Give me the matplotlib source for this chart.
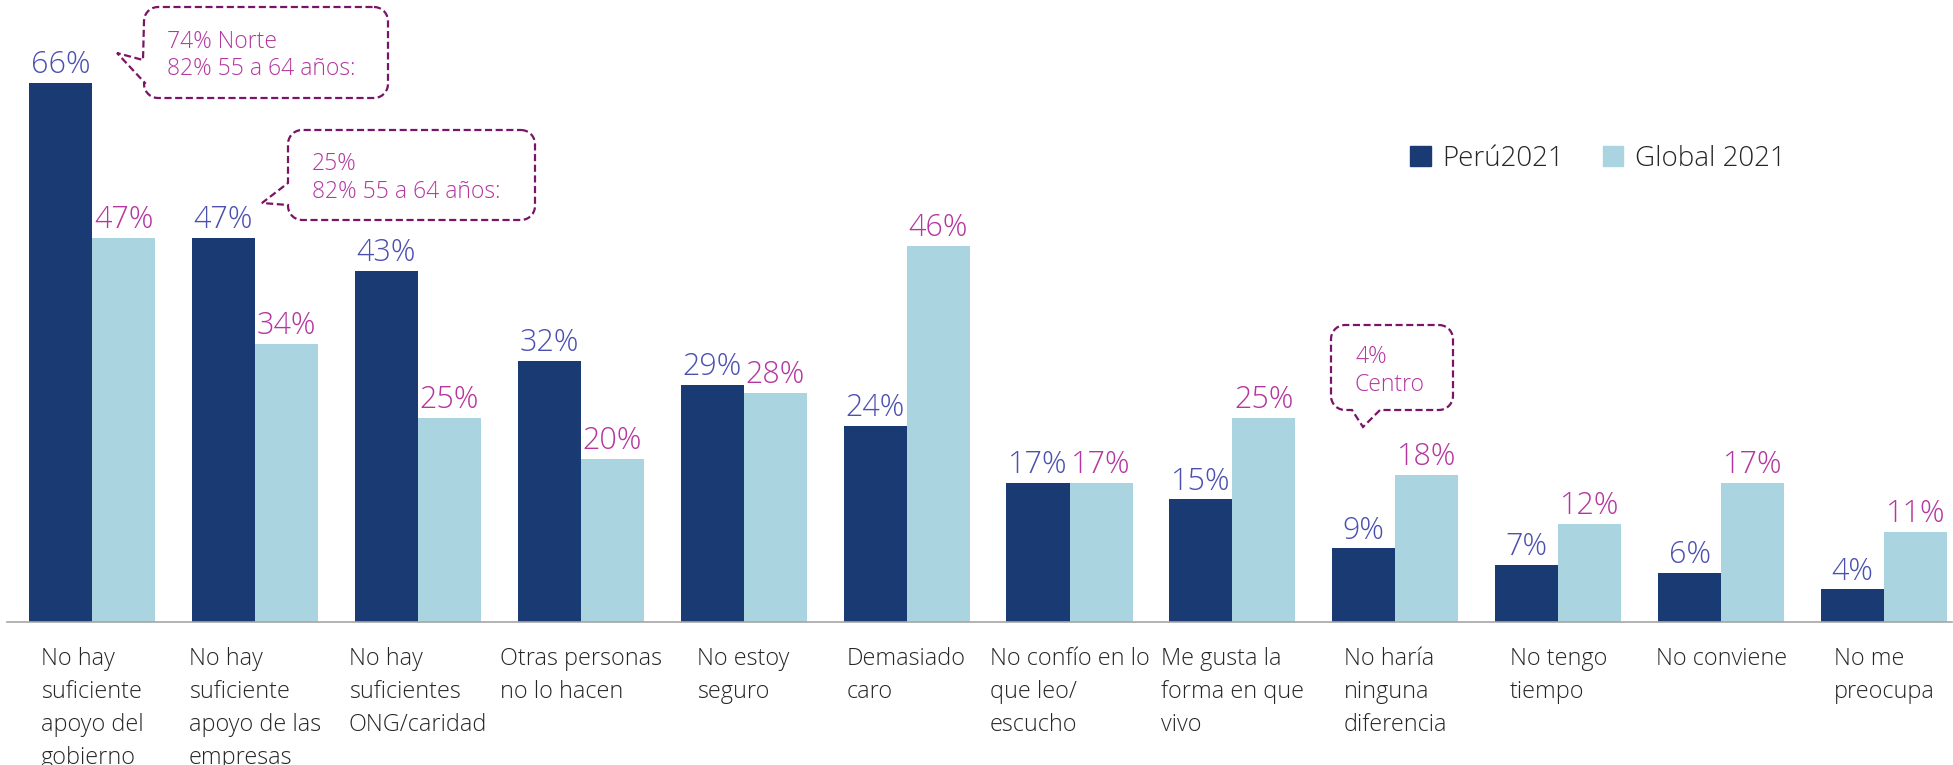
import numpy as np
import matplotlib
matplotlib.use("Agg")
import matplotlib.pyplot as plt
from matplotlib.patches import Patch, Polygon

# Datos del gráfico
categorias = [
    "No hay\nsuficiente\napoyo del\ngobierno",
    "No hay\nsuficiente\napoyo de las\nempresas",
    "No hay\nsuficientes\nONG/caridad",
    "Otras personas\nno lo hacen",
    "No estoy\nseguro",
    "Demasiado\ncaro",
    "No confío en lo\nque leo/\nescucho",
    "Me gusta la\nforma en que\nvivo",
    "No haría\nninguna\ndiferencia",
    "No tengo\ntiempo",
    "No conviene",
    "No me\npreocupa",
]
peru_2021 = [66, 47, 43, 32, 29, 24, 17, 15, 9, 7, 6, 4]
global_2021 = [47, 34, 25, 20, 28, 46, 17, 25, 18, 12, 17, 11]
series = ["Perú2021", "Global 2021"]

# Textos de los globos
globo_1 = ["74% Norte", "82% 55 a 64 años:"]
globo_2 = ["25%", "82% 55 a 64 años:"]
globo_3 = ["4%", "Centro"]

W, H = 1953, 765
AZUL = "#1a3a74"
CELESTE = "#a9d4e0"
COLOR_PERU = "#4b50b0"
COLOR_GLOBAL = "#b5369f"
COLOR_GLOBO = "#7a1466"
COLOR_TEXTO = "#262626"
FUENTE = ["Open Sans", "DejaVu Sans"]


def fig_xy(x, y):
    # pixeles (origen arriba a la izquierda) -> fraccion de figura
    return x / W, 1 - y / H


def globo(fig, x0, y0, x1, y1, r, pico, lado):
    pts = []

    def arco(cx, cy, a0, a1):
        for t in np.radians(np.linspace(a0, a1, 9)):
            pts.append((cx + r * np.cos(t), cy + r * np.sin(t)))

    arco(x1 - r, y0 + r, -90, 0)
    arco(x1 - r, y1 - r, 0, 90)
    if lado == "abajo":
        pts.extend(pico)
    arco(x0 + r, y1 - r, 90, 180)
    if lado == "izq":
        pts.extend(pico)
    arco(x0 + r, y0 + r, 180, 270)
    pts = [fig_xy(px, py) for px, py in pts]
    poly = Polygon(pts, closed=True, transform=fig.transFigure,
                   facecolor="white", edgecolor=COLOR_GLOBO,
                   linewidth=1.6, linestyle=(0, (3.2, 1.6)), zorder=5)
    fig.add_artist(poly)


def texto_globo(fig, x, bases, lineas):
    for yb, t in zip(bases, lineas):
        fx, fy = fig_xy(x, yb)
        fig.text(fx, fy, t, fontsize=16.5, color=COLOR_GLOBAL,
                 family=FUENTE, fontweight="light", va="baseline",
                 ha="left", zorder=6)


if __name__ == '__main__':
    fig = plt.figure(figsize=(W / 100, H / 100), dpi=100)
    ax = fig.add_axes([7 / W, (H - 622) / H, 1945 / W, 572 / H])

    x = np.arange(len(categorias))
    ancho = 0.387
    ax.bar(x - ancho / 2, peru_2021, ancho, color=AZUL, label=series[0])
    ax.bar(x + ancho / 2, global_2021, ancho, color=CELESTE, label=series[1])

    ax.set_xlim(-0.522, 11.417)
    ax.set_ylim(0, 70)

    # etiquetas de valores
    for i in x:
        ax.annotate(f"{peru_2021[i]}%", (i - ancho / 2, peru_2021[i]),
                    xytext=(0, 7), textcoords="offset points",
                    ha="center", va="baseline", fontsize=22,
                    color=COLOR_PERU, family=FUENTE, fontweight="light")
        ax.annotate(f"{global_2021[i]}%", (i + ancho / 2, global_2021[i]),
                    xytext=(0, 7), textcoords="offset points",
                    ha="center", va="baseline", fontsize=22,
                    color=COLOR_GLOBAL, family=FUENTE, fontweight="light")
        ax.annotate(categorias[i], (i, 0), xytext=(0, -18),
                    textcoords="offset points", ha="center", va="top",
                    multialignment="left", fontsize=16.8, linespacing=1.5,
                    color=COLOR_TEXTO, family=FUENTE, fontweight="light",
                    annotation_clip=False)

    for s in ["top", "right", "left"]:
        ax.spines[s].set_visible(False)
    ax.spines["bottom"].set_color("#a6a6a6")
    ax.spines["bottom"].set_linewidth(1.2)
    ax.set_xticks([])
    ax.set_yticks([])

    # leyenda
    manijas = [Patch(color=AZUL), Patch(color=CELESTE)]
    ax.legend(manijas, series, loc="upper left",
              bbox_to_anchor=fig_xy(1385, 120), bbox_transform=fig.transFigure,
              ncol=2, frameon=False, handlelength=0.75, handleheight=0.75,
              handletextpad=0.4, columnspacing=1.4,
              prop={"family": FUENTE, "size": 20, "weight": "light"},
              labelcolor=COLOR_TEXTO)

    # globos de comentario
    globo(fig, 144, 7, 388, 98, 14, [(145, 83), (117, 53), (143, 60)], "izq")
    texto_globo(fig, 167, [48, 75], globo_1)
    globo(fig, 288, 130, 535, 220, 14, [(288, 205), (262, 203), (288, 183)], "izq")
    texto_globo(fig, 312, [170, 198], globo_2)
    globo(fig, 1331, 325, 1453, 410, 14, [(1380, 410), (1363, 427), (1352, 410)], "abajo")
    texto_globo(fig, 1355, [363, 391], globo_3)

    fig.savefig("out.png", dpi=100)
